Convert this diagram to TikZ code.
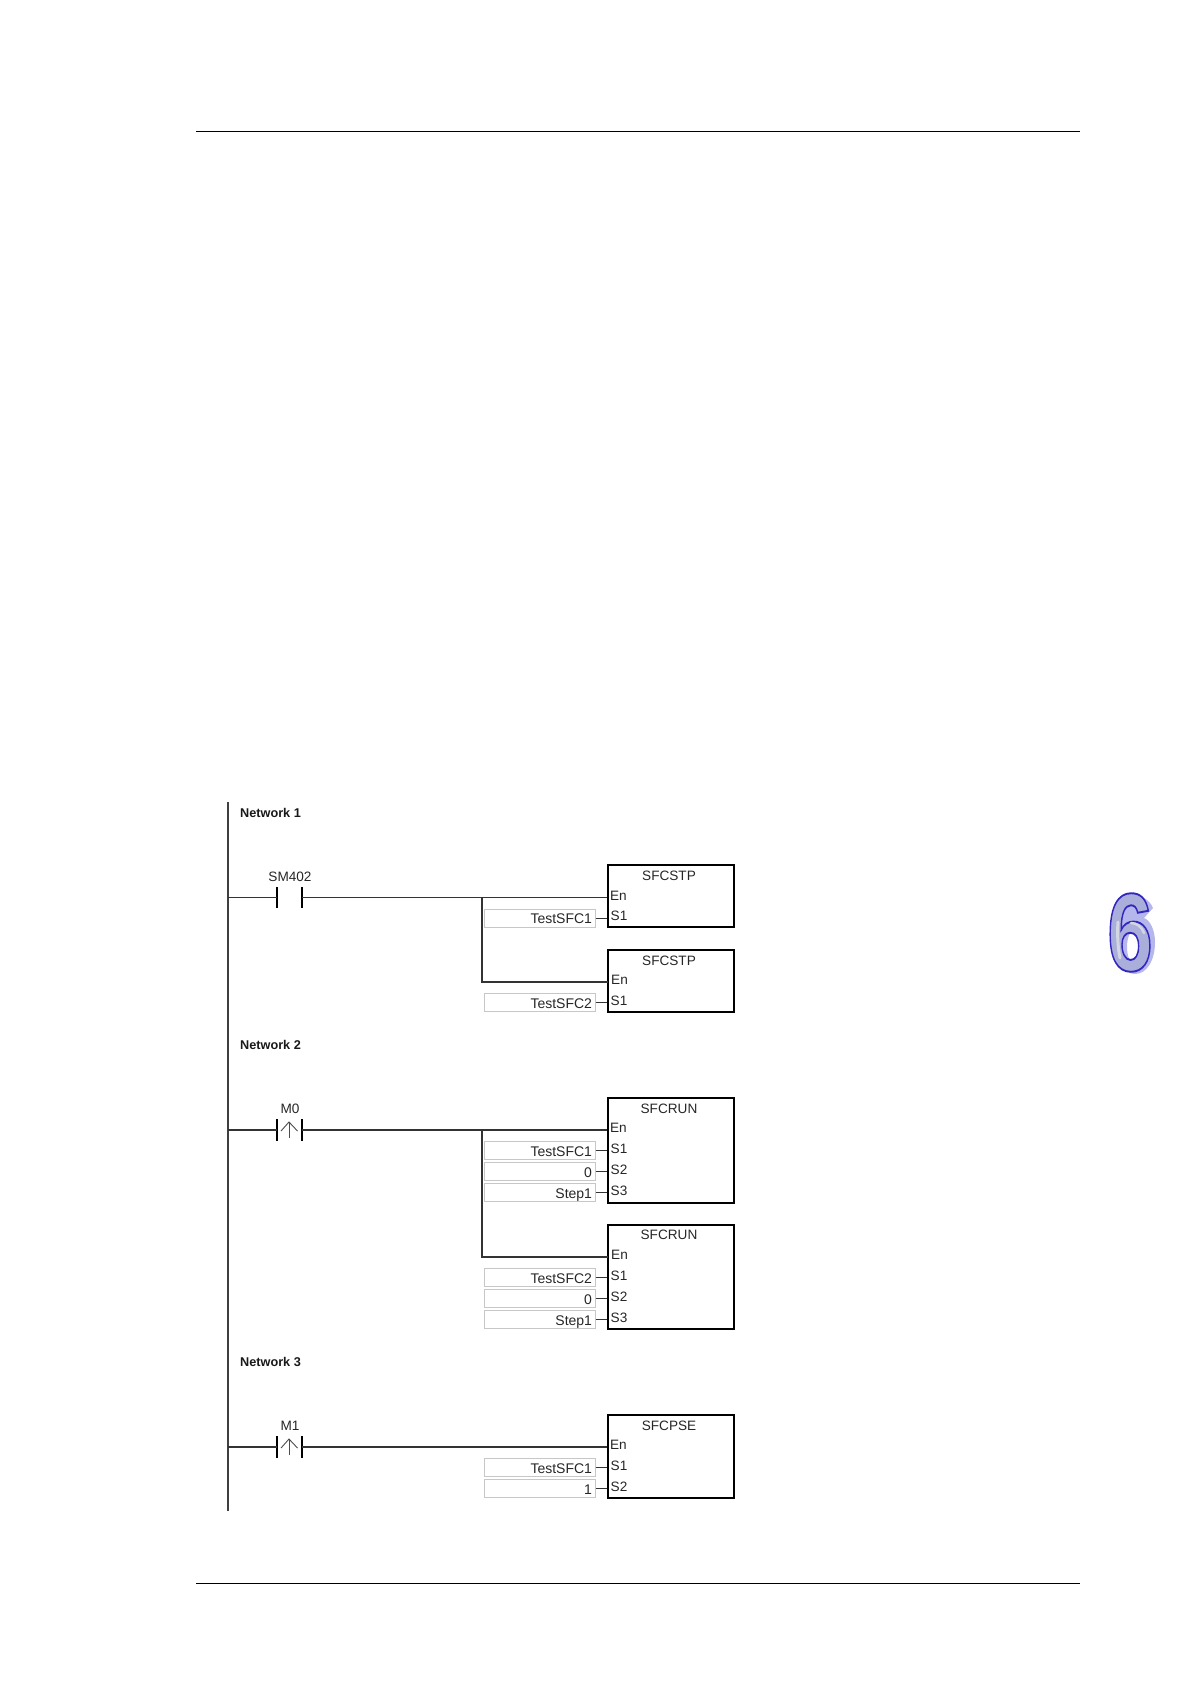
\documentclass[tikz,border=0pt]{standalone}
\usepackage{fontspec}
\setmainfont{Liberation Sans}
\usepackage{tikz}
\usetikzlibrary{positioning}

\definecolor{chapfill}{HTML}{A9AEDA}
\definecolor{chapshade}{HTML}{B4B6EC}
\definecolor{chaplight}{HTML}{D4D6E2}

\begin{document}
\begin{tikzpicture}[
    x=1pt, y=-1pt,
    node distance=2pt,
    block/.style={rectangle, draw=black, line width=2.3pt, minimum width=126pt, inner sep=0pt},
    blocktitle/.style={inner sep=0pt, text=black!85, font=\fontsize{13.6}{15}\selectfont},
    pinname/.style={inner sep=0pt, yshift=2pt, text height=9.5pt, text depth=0pt, text=black!85, font=\fontsize{13.6}{15}\selectfont},
    field/.style={rectangle, draw=black!22, line width=1pt, inner xsep=3pt, inner ysep=0pt, text width=105pt, align=right, minimum height=18pt, text height=11.5pt, text depth=0pt, text=black!85, font=\fontsize{14}{15}\selectfont},
    netlabel/.style={inner sep=0pt, anchor=west, text=black!90, font=\bfseries\fontsize{12.7}{14}\selectfont},
    contact/.style={rectangle, inner sep=0pt, minimum width=25pt, minimum height=21pt},
    contactname/.style={inner sep=0pt, text=black!85, font=\fontsize{13.6}{15}\selectfont},
    wire/.style={draw=black!80, line width=1.2pt},
    stub/.style={draw=black!80, line width=1pt},
    bar/.style={draw=black, line width=2.2pt},
    edge/.style={draw=black!70, line width=0.9pt},
    rail/.style={draw=black!75, line width=2pt},
    pagerule/.style={draw=black, line width=1pt}
]
\useasboundingbox (0,0) rectangle (1191,1684);

% page rules
\coordinate (ruletopl) at (196,131.5);
\coordinate (ruletopr) at (1080,131.5);
\coordinate (rulebotl) at (196,1583.3);
\coordinate (rulebotr) at (1080,1583.3);
\draw[pagerule] (ruletopl) -- (ruletopr);
\draw[pagerule] (rulebotl) -- (rulebotr);

% chapter number
\fill[chapshade, even odd rule] (1153,908) .. controls (1149,899) and (1142,896) .. (1134,896) .. controls (1122,896) and (1116,914) .. (1116,935) .. controls (1116,958) and (1123,974) .. (1135,974) .. controls (1147,974) and (1155,960) .. (1155,942) .. controls (1155,930) and (1150,920) .. (1144,918) -- cycle (1135,930) .. controls (1130,930) and (1127,938) .. (1127,947) .. controls (1127,956) and (1130,964) .. (1135,964) .. controls (1140,964) and (1143,956) .. (1143,947) .. controls (1143,938) and (1140,930) .. (1135,930) -- cycle;
\node[inner sep=0pt, text=chapfill, xscale=0.74, font=\bfseries\fontsize{111}{120}\selectfont] (chapnum) at (1130,932.5) {\special{pdf:code 2 Tr 1.9 w 0.2 0.15 0.75 RG}6\special{pdf:code 0 Tr}};
\draw[chaplight, line width=3pt, line cap=round] (1118,922) .. controls (1117,935) and (1118,948) .. (1120,958);
\draw[chaplight, line width=2.5pt, line cap=round] (1131,923) .. controls (1137,923) and (1142,927) .. (1144,933);

% left rail
\coordinate (railtop) at (227.5,802);
\coordinate (railbot) at (227.5,1511);
\draw[rail] (railtop) -- (railbot);

% network 1
\node[netlabel] (net1) at (240,813) {Network 1};
\node[contact] (sm402) at (289.5,897.7) {};
\node[contactname] (sm402name) at (290,877) {SM402};
\draw[bar] (sm402.north west) -- (sm402.south west);
\draw[bar] (sm402.north east) -- (sm402.south east);
\node[block, minimum height=62pt] (stp1) at (671,896) {};
\node[blocktitle] (stp1title) at (669,876) {SFCSTP};
\node[block, minimum height=62pt] (stp2) at (671,981) {};
\node[blocktitle] (stp2title) at (669,961) {SFCSTP};
\coordinate (en1) at (stp1.west |- sm402);
\coordinate (jn1) at (482,897.7);
\coordinate (en2) at (608,982);
\node[pinname, right=3pt of en1] (stp1en) {En};
\node[pinname, right=3pt of en2] (stp2en) {En};
\node[field] (stp1in1) at (539.5,918) {TestSFC1};
\node[pinname, right=15pt of stp1in1] (stp1s1) {S1};
\node[field] (stp2in1) at (539.5,1002.5) {TestSFC2};
\node[pinname, right=15pt of stp2in1] (stp2s1) {S1};
\draw[wire] (railtop |- sm402) -- (sm402.west);
\draw[wire] (sm402.east) -- (en1);
\draw[wire] (jn1) |- (en2);
\draw[stub] (stp1in1) -- (stp1in1 -| stp1.west);
\draw[stub] (stp2in1) -- (stp2in1 -| stp2.west);

% network 2
\node[netlabel] (net2) at (240,1045) {Network 2};
\node[contact] (m0) at (289.5,1130) {};
\node[contactname] (m0name) at (290,1109) {M0};
\draw[bar] (m0.north west) -- (m0.south west);
\draw[bar] (m0.north east) -- (m0.south east);
\coordinate (m0tip) at (289,1122);
\coordinate (m0foot) at (289,1138);
\coordinate (m0headl) at (281,1131);
\coordinate (m0headr) at (297.5,1131);
\draw[edge] (m0foot) -- (m0tip);
\draw[edge] (m0headl) -- (m0tip) -- (m0headr);
\node[block, minimum height=105pt] (run1) at (671,1150.5) {};
\node[blocktitle] (run1title) at (669,1109) {SFCRUN};
\node[block, minimum height=104pt] (run2) at (671,1277) {};
\node[blocktitle] (run2title) at (669,1235) {SFCRUN};
\coordinate (en3) at (run1.west |- m0);
\coordinate (jn2) at (482,1130);
\coordinate (en4) at (608,1257);
\node[pinname, right=3pt of en3] (run1en) {En};
\node[pinname, right=3pt of en4] (run2en) {En};
\node[field] (run1in1) at (539.5,1150.5) {TestSFC1};
\node[field, below=of run1in1] (run1in2) {0};
\node[field, below=of run1in2] (run1in3) {Step1};
\node[pinname, right=15pt of run1in1] (run1s1) {S1};
\node[pinname, right=15pt of run1in2] (run1s2) {S2};
\node[pinname, right=15pt of run1in3] (run1s3) {S3};
\node[field] (run2in1) at (539.5,1277.5) {TestSFC2};
\node[field, below=of run2in1] (run2in2) {0};
\node[field, below=of run2in2] (run2in3) {Step1};
\node[pinname, right=15pt of run2in1] (run2s1) {S1};
\node[pinname, right=15pt of run2in2] (run2s2) {S2};
\node[pinname, right=15pt of run2in3] (run2s3) {S3};
\draw[wire] (railtop |- m0) -- (m0.west);
\draw[wire] (m0.east) -- (en3);
\draw[wire] (jn2) |- (en4);
\draw[stub] (run1in1) -- (run1in1 -| run1.west);
\draw[stub] (run1in2) -- (run1in2 -| run1.west);
\draw[stub] (run1in3) -- (run1in3 -| run1.west);
\draw[stub] (run2in1) -- (run2in1 -| run2.west);
\draw[stub] (run2in2) -- (run2in2 -| run2.west);
\draw[stub] (run2in3) -- (run2in3 -| run2.west);

% network 3
\node[netlabel] (net3) at (240,1362) {Network 3};
\node[contact] (m1) at (289.5,1447) {};
\node[contactname] (m1name) at (290,1426) {M1};
\draw[bar] (m1.north west) -- (m1.south west);
\draw[bar] (m1.north east) -- (m1.south east);
\coordinate (m1tip) at (289,1439);
\coordinate (m1foot) at (289,1455);
\coordinate (m1headl) at (281,1448);
\coordinate (m1headr) at (297.5,1448);
\draw[edge] (m1foot) -- (m1tip);
\draw[edge] (m1headl) -- (m1tip) -- (m1headr);
\node[block, minimum height=83pt] (pse1) at (671,1456.5) {};
\node[blocktitle] (pse1title) at (669,1426) {SFCPSE};
\coordinate (en5) at (pse1.west |- m1);
\node[pinname, right=3pt of en5] (pse1en) {En};
\node[field] (pse1in1) at (539.5,1467.5) {TestSFC1};
\node[field, below=of pse1in1] (pse1in2) {1};
\node[pinname, right=15pt of pse1in1] (pse1s1) {S1};
\node[pinname, right=15pt of pse1in2] (pse1s2) {S2};
\draw[wire] (railtop |- m1) -- (m1.west);
\draw[wire] (m1.east) -- (en5);
\draw[stub] (pse1in1) -- (pse1in1 -| pse1.west);
\draw[stub] (pse1in2) -- (pse1in2 -| pse1.west);
\end{tikzpicture}
\end{document}
